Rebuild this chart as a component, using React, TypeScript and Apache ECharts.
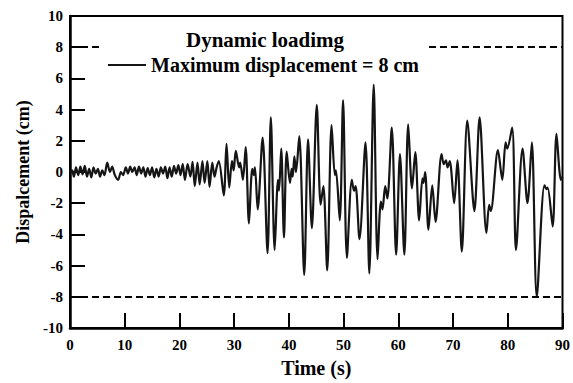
import React, { useEffect, useRef } from "react";
import * as echarts from "echarts";

// [time (s), displacement (cm)] turning points read from the record
const quietPhase: [number, number][] = [
  [0, 0], [0.4, 0.1], [0.7, -0.3], [1.1, 0.3], [1.5, -0.2], [1.9, 0.35], [2.3, -0.15], [2.7, 0.4],
  [3.1, -0.3], [3.5, 0.2], [3.9, -0.35], [4.3, 0.3], [4.7, -0.1], [5.1, 0.2], [5.5, -0.3], [5.9, 0.1],
  [6.3, -0.2], [6.8, 0.6], [7.3, 0.0], [7.7, 0.35], [8.2, -0.2], [8.8, -0.5], [9.3, 0.0], [9.7, -0.2],
  [10.2, 0.3], [10.6, -0.1], [11.0, 0.35], [11.4, 0.0], [11.8, 0.3], [12.2, -0.2], [12.6, 0.35],
  [13.0, -0.1], [13.4, 0.3], [13.8, -0.3], [14.2, 0.25], [14.6, -0.2], [15.0, 0.3], [15.4, -0.35],
  [15.8, 0.2], [16.2, -0.3], [16.6, 0.3], [17.0, -0.1], [17.4, 0.35], [17.8, -0.4], [18.2, 0.3],
  [18.6, -0.3], [19.0, 0.4], [19.4, -0.1], [19.8, 0.45], [20.2, -0.2], [20.6, 0.5],
];

const buildUpPhase: [number, number][] = [
  [21.0, -0.5], [21.5, 0.5], [22.0, -0.3], [22.4, 0.65], [22.8, -0.9], [23.3, 0.6], [23.7, -0.8],
  [24.2, 0.7], [24.6, -0.7], [25.1, 0.7], [25.5, -0.95], [26.0, 0.6], [26.4, -0.3], [26.8, 0.3],
  [27.2, 0.7], [28.1, -1.5], [28.6, 1.8], [29.1, -1.0], [29.6, 0.7], [29.9, 0.1], [30.3, 1.35],
  [30.9, 0.3], [31.1, 0.6], [31.6, -0.5], [32.1, 1.6], [32.7, -3.3], [33.3, 0.2], [33.6, -0.2],
  [33.8, 0.3], [34.3, -2.4], [35.2, 2.2],
];

const strongPhase: [number, number][] = [
  [36.1, -5.2], [36.7, 3.5], [37.4, -5.0], [38.0, -0.5], [38.2, -1.2], [38.6, 1.5], [39.1, -4.2],
  [39.6, 1.3], [40.2, -0.7], [40.5, 0.2], [40.7, -0.3], [41.0, 1.0], [41.3, 0.0], [41.9, 2.3],
  [42.8, -6.6], [43.5, 2.1], [44.2, -3.6], [45.1, 4.3], [45.8, -2.1], [46.3, -0.9], [47.0, -6.3],
  [47.8, 3.0], [48.4, -0.2], [48.6, 0.1], [49.3, -3.1], [49.9, 4.6], [50.6, -5.5], [51.5, -0.5],
  [51.9, -1.2], [52.2, -0.9], [52.9, -4.3], [54.0, 1.9], [54.7, -6.5], [55.5, 5.6], [56.2, -5.6],
  [56.8, -1.9], [57.1, -2.4], [57.6, -0.9], [58.0, -1.7], [58.8, 2.85], [59.6, -5.3],
];

const latePhase: [number, number][] = [
  [60.3, 1.15], [61.1, -5.3], [61.8, 3.05], [62.5, -1.05], [63.1, 1.27], [63.8, -3.1], [64.4, -0.4],
  [64.6, -0.7], [64.9, 0.0], [65.5, -3.7], [66.2, -0.85], [66.8, -3.2], [67.9, 1.15], [68.3, 0.5],
  [68.7, 0.75], [69.0, 0.3], [69.4, 0.7], [70.2, -2.0], [70.8, 0.75], [71.6, -5.1], [72.6, 3.3],
  [73.9, -2.5], [74.85, 3.5], [76.1, -3.9], [76.6, -2.1], [76.9, -2.5], [78.2, 1.4], [79.0, -0.5],
  [79.6, 1.9], [79.9, 1.5], [80.8, 2.85], [81.5, -5.0], [82.7, 1.5], [83.6, -2.0], [84.4, 1.9],
  [85.3, -8.0], [86.7, -0.85], [87.1, -1.1], [87.3, -1.0], [88.2, -3.5], [88.9, 2.45], [89.7, -0.5],
  [90, -0.3],
];

const limitValue = 8;
const seriesName = "Maximum displacement = 8 cm";
const titleText = "Dynamic loadimg";
const xName = "Time (s)";
const yName = "Dispalcement (cm)";
// visible pieces of the +8 cm limit line (the middle is hidden behind the legend)
const upperLimitPieces: [number, number][] = [[0, 5.45], [65.6, 90]];

const FONT = "'Liberation Serif', 'Times New Roman', serif";

export default function App() {
  const ref = useRef<HTMLDivElement>(null);
  useEffect(() => {
    if (!ref.current) return;
    const chart = echarts.init(ref.current, undefined, { renderer: "svg" });
    const data = [...quietPhase, ...buildUpPhase, ...strongPhase, ...latePhase];
    const dash = { type: [7, 4] as any, color: "#000", width: 2 };
    chart.setOption({
      animation: false,
      backgroundColor: "#fff",
      textStyle: { fontFamily: FONT },
      title: {
        text: titleText,
        left: 186,
        top: 29,
        padding: 0,
        textStyle: { fontFamily: FONT, fontWeight: "bold", fontSize: 21, color: "#000" },
      },
      legend: {
        left: 108,
        top: 55,
        padding: 0,
        itemWidth: 38,
        itemHeight: 2,
        itemGap: 5,
        icon: "rect",
        data: [seriesName],
        textStyle: { fontFamily: FONT, fontWeight: "bold", fontSize: 20, color: "#000" },
      },
      grid: {
        left: 70,
        right: 8,
        top: 16,
        bottom: 52,
        show: true,
        borderColor: "#000",
        borderWidth: 2,
        backgroundColor: "transparent",
      },
      xAxis: {
        type: "value",
        min: 0,
        max: 90,
        interval: 10,
        name: xName,
        nameLocation: "middle",
        nameGap: 30,
        nameTextStyle: { fontFamily: FONT, fontWeight: "bold", fontSize: 20, color: "#000" },
        axisLine: { onZero: false, lineStyle: { color: "#000", width: 2.5 } },
        axisTick: { inside: true, length: 15, lineStyle: { color: "#000", width: 2 } },
        axisLabel: { fontFamily: FONT, fontWeight: "bold", fontSize: 15, color: "#000", margin: 9 },
        splitLine: { show: false },
      },
      yAxis: {
        type: "value",
        min: -10,
        max: 10,
        interval: 2,
        name: yName,
        nameLocation: "middle",
        nameGap: 36,
        nameTextStyle: { fontFamily: FONT, fontWeight: "bold", fontSize: 18, color: "#000" },
        axisLine: { onZero: false, lineStyle: { color: "#000", width: 2.5 } },
        axisTick: { inside: true, length: 15, lineStyle: { color: "#000", width: 2 } },
        axisLabel: { fontFamily: FONT, fontWeight: "bold", fontSize: 15, color: "#000", margin: 7 },
        splitLine: { show: false },
      },
      series: [
        {
          name: seriesName,
          type: "line",
          data,
          symbol: "none",
          smooth: 0.3,
          lineStyle: { color: "#151515", width: 2.2 },
          itemStyle: { color: "#151515" },
          markLine: {
            silent: true,
            symbol: "none",
            label: { show: false },
            lineStyle: dash,
            data: [
              ...upperLimitPieces.map(([a, b]) => [
                { coord: [a, limitValue] },
                { coord: [b, limitValue] },
              ]),
              [{ coord: [0, -limitValue] }, { coord: [90, -limitValue] }],
            ],
          },
        },
      ],
    });
    return () => chart.dispose();
  }, []);
  return (
    <div
      ref={ref}
      style={{ position: "fixed", left: 0, top: 0, width: 573, height: 383, background: "#fff" }}
    />
  );
}
